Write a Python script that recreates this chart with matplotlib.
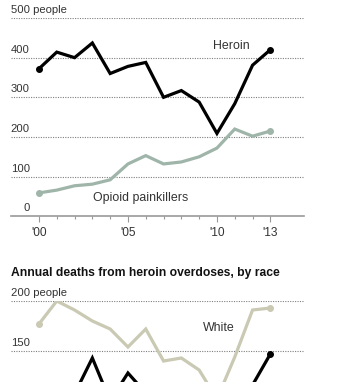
import numpy as np
import matplotlib.pyplot as plt

# values
years = np.arange(2000, 2014)
heroin = [372, 414, 400, 437, 360, 378, 388, 300, 317, 288, 209, 284, 381, 420]
opioid = [59, 66, 77, 81, 92, 132, 153, 132, 137, 150, 172, 220, 202, 215]
white = [177, 200, 191, 180, 172, 154, 172, 140, 143, 131, 102, 144, 191, 193]
black = [100, 110, 107, 143, 100, 128, 108, 95, 100, 90, 85, 95, 116, 147]

top_ticks = [100, 200, 300, 400]
bottom_ticks = [150]
year_ticks = [2000, 2005, 2010, 2013]
year_labels = ["'00", "'05", "'10", "'13"]

plt.rcParams["font.family"] = ["Liberation Sans", "DejaVu Sans"]

W, H = 346, 382
fig = plt.figure(figsize=(W / 100, H / 100), dpi=100)

text_col = "#333333"
grid_col = "#7f7f7f"
xlim = (2000 - 1.57, 2000 + 14.89)


def px_box(left, top, right, bottom):
    return [left / W, (H - bottom) / H, (right - left) / W, (bottom - top) / H]


def style(ax):
    for s in ax.spines.values():
        s.set_visible(False)
    ax.set_xlim(*xlim)
    ax.set_yticks([])
    ax.patch.set_visible(False)


def ylabel(ax, y, txt, right=True):
    trans = ax.get_yaxis_transform()
    x = (30 - 11) / 293 if right else 0
    ax.annotate(txt, (x, y), xycoords=trans, xytext=(0, 3),
                textcoords="offset pixels", ha="right" if right else "left",
                va="bottom", fontsize=8.1, color=text_col)


def gridline(ax, y):
    ax.axhline(y, color=grid_col, lw=0.8, ls=(0, (1, 1.2)), zorder=1)


# top chart
ax1 = fig.add_axes(px_box(11, 18, 304, 216.3))
style(ax1)
ax1.set_ylim(0, 500)
for v in top_ticks + [500]:
    gridline(ax1, v)
for v in top_ticks:
    ylabel(ax1, v, str(v))
ylabel(ax1, 0, "0")
ylabel(ax1, 500, "500 people", right=False)

ax1.spines["bottom"].set_visible(True)
ax1.spines["bottom"].set_color("#999999")
ax1.spines["bottom"].set_linewidth(1.2)
ax1.set_xticks(year_ticks)
ax1.set_xticklabels(year_labels)
ax1.set_xticks(years, minor=True)
ax1.tick_params(axis="x", which="major", length=4.5, width=0.8, color="#999999",
                labelsize=8.6, labelcolor=text_col, pad=3)
ax1.tick_params(axis="x", which="minor", length=2.5, width=0.8, color="#999999")

ax1.plot(years, opioid, color="#9fb5aa", lw=2.3, solid_joinstyle="miter", zorder=3)
ax1.plot(years[[0, -1]], [opioid[0], opioid[-1]], "o", color="#9fb5aa", ms=4, zorder=3)
ax1.plot(years, heroin, color="#000000", lw=2.3, solid_joinstyle="miter", zorder=4)
ax1.plot(years[[0, -1]], [heroin[0], heroin[-1]], "o", color="#000000", ms=4, zorder=4)

ax1.text(2010.78, 429, "Heroin", ha="center", va="center", fontsize=8.9, color=text_col)
ax1.text(2005.71, 46, "Opioid painkillers", ha="center", va="center", fontsize=8.9,
         color=text_col)

# bottom chart (cut off by the figure edge, as in the reference)
ax2 = fig.add_axes(px_box(11, 301, 304, 401))
style(ax2)
ax2.set_ylim(100, 200)
ax2.set_xticks([])
for v in [150, 200]:
    gridline(ax2, v)
for v in bottom_ticks:
    ylabel(ax2, v, str(v))
ylabel(ax2, 200, "200 people", right=False)

ax2.plot(years, white, color="#cac9b3", lw=2.3, solid_joinstyle="miter", zorder=3)
ax2.plot(years[[0, -1]], [white[0], white[-1]], "o", color="#cac9b3", ms=4, zorder=3)
ax2.plot(years, black, color="#000000", lw=2.3, solid_joinstyle="miter", zorder=4)
ax2.plot(years[[-1]], [black[-1]], "o", color="#000000", ms=4, zorder=4)
ax2.text(2010.13, 173.3, "White", ha="center", va="center", fontsize=8.9, color=text_col)

fig.text(11 / W, (H - 276) / H, "Annual deaths from heroin overdoses, by race",
         ha="left", va="baseline", fontsize=8.7, fontweight="heavy", color="#111111")

fig.savefig("out.png", dpi=100)
